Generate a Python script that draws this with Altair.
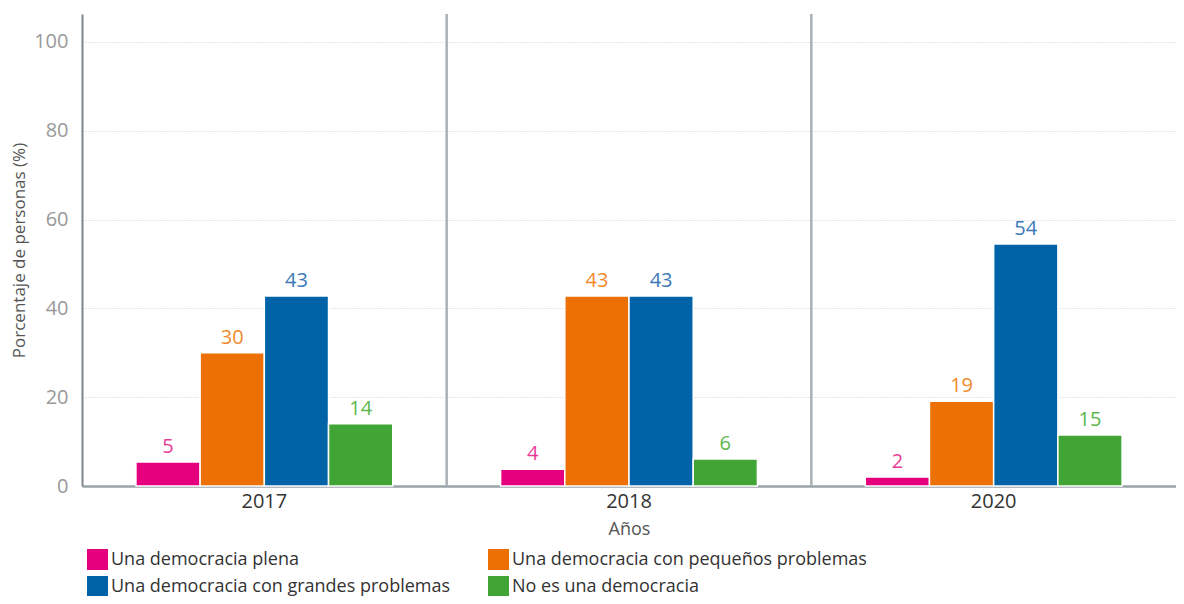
import altair as alt
import pandas as pd

years = ["2017", "2018", "2020"]
categories = [
    "Una democracia plena",
    "Una democracia con pequeños problemas",
    "Una democracia con grandes problemas",
    "No es una democracia",
]
bar_colors = ["#e6007e", "#ed7004", "#0062a7", "#41a535"]
label_colors = ["#ea3d96", "#f08a2c", "#3a78b8", "#5cb84c"]

# bar heights as drawn, and the printed labels
values = {
    "2017": [5.4, 30.0, 42.8, 14.0],
    "2018": [3.8, 42.8, 42.8, 6.1],
    "2020": [2.0, 19.1, 54.5, 11.5],
}
labels = {
    "2017": ["5", "30", "43", "14"],
    "2018": ["4", "43", "43", "6"],
    "2020": ["2", "19", "54", "15"],
}
separator_years = ["2018", "2020"]

rows = []
for y in years:
    for i, c in enumerate(categories):
        rows.append({"year": y, "cat": c, "value": values[y][i],
                     "label": labels[y][i], "lcolor": label_colors[i]})
df = pd.DataFrame(rows)
sep_df = pd.DataFrame({"year": separator_years})

FONT = "Open Sans"

x_enc = alt.X("year:N", sort=years,
              scale=alt.Scale(domain=years, paddingInner=0, paddingOuter=0),
              axis=alt.Axis(title="Años", labelFontSize=20, labelColor="#333333",
                            labelFont=FONT, labelPadding=5, ticks=False,
                            domainColor="#9aa3a8", domainWidth=2.5,
                            titleFontSize=18, titleColor="#555555", titleFont=FONT,
                            titleFontWeight="normal", titlePadding=9, labelAngle=0))
xo_enc = alt.XOffset("cat:N", sort=categories,
                     scale=alt.Scale(domain=categories, paddingOuter=0.84, paddingInner=0))
y_enc = alt.Y("value:Q",
              scale=alt.Scale(domain=[0, 106.3], nice=False, zero=True),
              axis=alt.Axis(title="Porcentaje de personas (%)", values=[0, 20, 40, 60, 80, 100],
                            labelFontSize=20, labelColor="#999999", labelFont=FONT,
                            labelPadding=14, ticks=False,
                            domainColor="#7d868c", domainWidth=2,
                            grid=True, gridColor="#cccccc", gridDash=[1, 2], gridWidth=1,
                            titleFontSize=17, titleColor="#555555", titleFont=FONT,
                            titleFontWeight="normal", titlePadding=5))

bars = alt.Chart(df).mark_bar(stroke="white", strokeWidth=1.5).encode(
    x=x_enc,
    xOffset=xo_enc,
    y=y_enc,
    color=alt.Color("cat:N", sort=categories,
                    scale=alt.Scale(domain=categories, range=bar_colors),
                    legend=alt.Legend(title=None, orient="none", legendX=5, legendY=535,
                                      direction="horizontal",
                                      columns=2, columnPadding=37, rowPadding=6,
                                      symbolType="square", symbolSize=440,
                                      symbolStrokeWidth=0, labelFontSize=18,
                                      labelFont=FONT, labelColor="#333333",
                                      labelOffset=3, labelLimit=500)),
)

text = alt.Chart(df).mark_text(baseline="bottom", dy=-5, fontSize=20, font=FONT).encode(
    x=alt.X("year:N", sort=years),
    xOffset=alt.XOffset("cat:N", sort=categories),
    y=alt.Y("value:Q"),
    text="label:N",
    color=alt.Color("lcolor:N", scale=None),
)

seps = alt.Chart(sep_df).mark_rule(color="#aab1b6", strokeWidth=2.5).encode(
    x=alt.X("year:N", sort=years, bandPosition=0),
    y=alt.value(0),
    y2=alt.value(472),
)

chart = alt.layer(bars, seps, text).properties(
    width=1094, height=472,
    autosize=alt.AutoSizeParams(type="none"),
    padding={"left": 74, "top": 6, "right": 0, "bottom": 110},
).configure_view(stroke=None)

chart.save("out.html", embed_options={"renderer": "svg", "actions": False})
